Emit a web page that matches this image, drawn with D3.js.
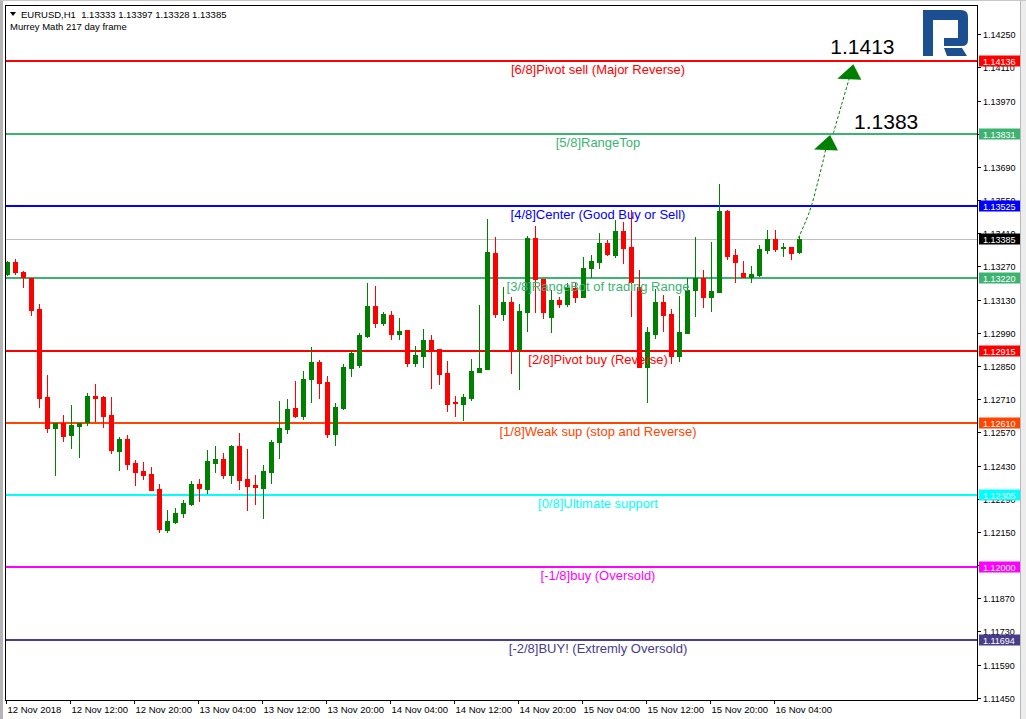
<!DOCTYPE html>
<html><head><meta charset="utf-8">
<script src="https://cdn.jsdelivr.net/npm/d3@7"></script>
<style>html,body{margin:0;padding:0;background:#fff;overflow:hidden}</style>
</head><body>
<svg id="c" width="1026" height="719" xmlns="http://www.w3.org/2000/svg"></svg>
<script>
// ---------------- DATA ----------------
const symbolInfo = "EURUSD,H1";
const headerOHLC = ["1.13333", "1.13397", "1.13328", "1.13385"];
const indicatorName = "Murrey Math 217 day frame";
const firstBarTime = "2018-11-12T04:00:00";

const openP = [1.13237,1.13288,1.13248,1.13220,1.13091,1.12720,1.12590,1.12608,1.12559,1.12598,
1.12612,1.12725,1.12721,1.12643,1.12493,1.12542,1.12441,1.12407,1.12394,1.12331,
1.12159,1.12193,1.12231,1.12268,1.12352,1.12331,1.12441,1.12458,1.12391,1.12513,
1.12373,1.12348,1.12335,1.12403,1.12530,1.12584,1.12673,1.12639,1.12795,1.12867,
1.12783,1.12563,1.12672,1.12843,1.12855,1.12977,1.13104,1.13031,1.13066,1.12985,
1.13002,1.12862,1.12894,1.12960,1.12923,1.12821,1.12697,1.12690,1.12714,1.12824,
1.12836,1.13326,1.13070,1.13120,1.12923,1.13080,1.13389,1.13216,1.13058,1.13129,
1.13112,1.13178,1.13143,1.13265,1.13291,1.13371,1.13319,1.13420,1.13351,1.13183,
1.12847,1.12985,1.13120,1.13070,1.12894,1.12991,1.13171,1.13220,1.13142,1.13163,
1.13506,1.13319,1.13243,1.13227,1.13234,1.13340,1.13386,1.13347,1.13353,1.13333];

const highP = [1.13294,1.13302,1.13250,1.13221,1.13112,1.12812,1.12609,1.12643,1.12686,1.12609,
1.12736,1.12774,1.12725,1.12719,1.12552,1.12559,1.12454,1.12446,1.12423,1.12352,
1.12242,1.12252,1.12285,1.12365,1.12373,1.12496,1.12513,1.12483,1.12517,1.12567,
1.12500,1.12390,1.12432,1.12538,1.12703,1.12711,1.12787,1.12829,1.12930,1.12876,
1.12808,1.12694,1.12859,1.12914,1.12991,1.13202,1.13188,1.13080,1.13083,1.13054,
1.13002,1.12936,1.13007,1.12981,1.12923,1.12869,1.12725,1.12732,1.12880,1.13108,
1.13470,1.13393,1.13182,1.13143,1.13112,1.13400,1.13441,1.13216,1.13171,1.13143,
1.13199,1.13199,1.13309,1.13319,1.13413,1.13382,1.13466,1.13459,1.13509,1.13255,
1.13016,1.13174,1.13150,1.13090,1.13146,1.13220,1.13396,1.13255,1.13375,1.13618,
1.13509,1.13344,1.13295,1.13270,1.13361,1.13424,1.13424,1.13369,1.13353,1.13397];

const lowP = [1.13234,1.13239,1.13185,1.13066,1.12675,1.12573,1.12390,1.12534,1.12506,1.12464,
1.12601,1.12618,1.12594,1.12483,1.12411,1.12415,1.12348,1.12373,1.12328,1.12151,
1.12151,1.12187,1.12214,1.12264,1.12281,1.12314,1.12403,1.12378,1.12356,1.12331,
1.12242,1.12268,1.12209,1.12356,1.12462,1.12567,1.12635,1.12626,1.12698,1.12715,
1.12551,1.12517,1.12667,1.12809,1.12847,1.12974,1.13016,1.13023,1.12965,1.12965,
1.12852,1.12852,1.12847,1.12756,1.12773,1.12660,1.12639,1.12622,1.12707,1.12824,
1.12836,1.13056,1.13044,1.12821,1.12754,1.12999,1.13077,1.13052,1.12993,1.13098,
1.13105,1.13122,1.13143,1.13227,1.13263,1.13319,1.13309,1.13284,1.13063,1.12844,
1.12700,1.12967,1.12998,1.12864,1.12869,1.12991,1.13063,1.13098,1.13083,1.13163,
1.13302,1.13206,1.13225,1.13206,1.13231,1.13329,1.13336,1.13315,1.13302,1.13328];

const closeP = [1.13291,1.13248,1.13225,1.13088,1.12717,1.12590,1.12608,1.12556,1.12601,1.12608,
1.12725,1.12717,1.12640,1.12497,1.12542,1.12438,1.12404,1.12390,1.12328,1.12162,
1.12196,1.12229,1.12272,1.12352,1.12333,1.12447,1.12458,1.12391,1.12513,1.12369,
1.12344,1.12340,1.12407,1.12530,1.12589,1.12669,1.12639,1.12795,1.12867,1.12778,
1.12563,1.12677,1.12847,1.12904,1.12981,1.13104,1.13031,1.13070,1.12985,1.12998,
1.12862,1.12897,1.12960,1.12923,1.12816,1.12690,1.12693,1.12720,1.12829,1.12842,
1.13333,1.13070,1.13120,1.12923,1.13083,1.13392,1.13216,1.13080,1.13129,1.13112,
1.13178,1.13143,1.13263,1.13294,1.13371,1.13322,1.13420,1.13350,1.13205,1.12847,
1.12993,1.13120,1.13066,1.12894,1.12994,1.13171,1.13220,1.13142,1.13167,1.13506,
1.13315,1.13289,1.13227,1.13239,1.13344,1.13386,1.13344,1.13353,1.13329,1.13385];

const levelValues = [1.14136, 1.13831, 1.13525, 1.13220, 1.12915, 1.12610, 1.12305, 1.12000, 1.11694];
const levelNames = ["[6/8]Pivot sell (Major Reverse)", "[5/8]RangeTop", "[4/8]Center (Good Buy or Sell)",
  "[3/8]RangeBot of trading Range", "[2/8]Pivot buy (Reverse)", "[1/8]Weak sup (stop and Reverse)",
  "[0/8]Ultimate support", "[-1/8]buy (Oversold)", "[-2/8]BUY! (Extremly Oversold)"];
const levelColors = ["#ff0000", "#3cb371", "#0000ff", "#3cb371", "#ff0000", "#ff4500", "#00ffff", "#ff00ff", "#483d8b"];

const currentPrice = 1.13385;

const priceTicks = [1.11450, 1.11590, 1.11730, 1.11870, 1.12010, 1.12150, 1.12290, 1.12430, 1.12570, 1.12710,
  1.12850, 1.12990, 1.13130, 1.13270, 1.13410, 1.13550, 1.13690, 1.13830, 1.13970, 1.14110, 1.14250];

const timeTickBars = [0, 8, 16, 24, 32, 40, 48, 56, 64, 72, 80, 88, 96];
const timeTickLabels = ["12 Nov 2018", "12 Nov 12:00", "12 Nov 20:00", "13 Nov 04:00", "13 Nov 12:00",
  "13 Nov 20:00", "14 Nov 04:00", "14 Nov 12:00", "14 Nov 20:00", "15 Nov 04:00", "15 Nov 12:00",
  "15 Nov 20:00", "16 Nov 04:00"];

// forecast arrows (bar index, price)
const path1Bars = [98.91, 100.38, 101.41, 102.04, 102.46];
const path1Prices = [1.13389, 1.13508, 1.13635, 1.13720, 1.13783];
const path2Bars = [103.29, 104.3, 105.29];
const path2Prices = [1.13832, 1.13950, 1.14065];
const targetBars = [102.88, 105.79];
const targetTipPrices = [1.13825, 1.14124];
const targetValues = [1.1383, 1.1413];

// ---------------- CHART ----------------
const W = 1026, H = 719;
const plot = {left: 5, top: 5, right: 977, bottom: 700};
const svg = d3.select("#c");
const font = "'Liberation Sans', Arial, sans-serif";

svg.append("rect").attr("width", W).attr("height", H).attr("fill", "#ffffff");

const parse = d3.timeParse("%Y-%m-%dT%H:%M:%S");
const t0 = parse(firstBarTime);
const times = openP.map((_, i) => d3.timeHour.offset(t0, i));
const bars = times.map((t, i) => ({t, i, o: openP[i], h: highP[i], l: lowP[i], c: closeP[i]}));

const x = d3.scaleBand().domain(times.map(d => +d)).range([3, 3 + 8 * times.length]).padding(0);
const xIdx = d3.scaleLinear().domain([0, times.length - 1]).range([x(+times[0]) + 4, x(+times[times.length - 1]) + 4]);
const y = d3.scaleLinear().domain([1.11450, 1.14250]).range([697.7, 34.3]);

// window chrome
svg.append("rect").attr("x", 0).attr("y", 0).attr("width", 3).attr("height", H).attr("fill", "#b4b4b4");
svg.append("rect").attr("x", 1020).attr("y", 0).attr("width", 6).attr("height", H).attr("fill", "#ececec");
svg.append("line").attr("x1", 1020.5).attr("x2", 1020.5).attr("y1", 0).attr("y2", H).attr("stroke", "#b8b8b8");
svg.append("line").attr("x1", 0).attr("x2", W).attr("y1", 0.5).attr("y2", 0.5).attr("stroke", "#c8c8c8");

const g = svg.append("g");
svg.append("clipPath").attr("id", "pc").append("rect")
  .attr("x", plot.left).attr("y", plot.top).attr("width", plot.right - plot.left).attr("height", plot.bottom - plot.top);
const pg = g.append("g").attr("clip-path", "url(#pc)");

// current price line
pg.append("line").attr("x1", plot.left).attr("x2", plot.right)
  .attr("y1", Math.round(y(currentPrice)) + 0.5).attr("y2", Math.round(y(currentPrice)) + 0.5)
  .attr("stroke", "#c0c0c0").attr("stroke-width", 1);

// level lines
levelValues.forEach((v, k) => {
  const yy = Math.round(y(v));
  pg.append("line").attr("x1", plot.left).attr("x2", plot.right).attr("y1", yy).attr("y2", yy)
    .attr("stroke", levelColors[k]).attr("stroke-width", 2).attr("shape-rendering", "crispEdges");
});

// candles
const cg = pg.append("g").attr("shape-rendering", "crispEdges");
bars.forEach(d => {
  const up = d.c >= d.o;
  const col = up ? "#008000" : "#ff0000";
  const bx = x(+d.t);
  cg.append("line").attr("x1", bx + 4.5).attr("x2", bx + 4.5)
    .attr("y1", Math.round(y(d.h))).attr("y2", Math.round(y(d.l)) + 1).attr("stroke", col);
  const yt = Math.round(y(Math.max(d.o, d.c)));
  const yb = Math.round(y(Math.min(d.o, d.c)));
  cg.append("rect").attr("x", bx + 2).attr("y", yt).attr("width", 5).attr("height", Math.max(1, yb - yt + 1))
    .attr("fill", col);
});

// level labels
levelValues.forEach((v, k) => {
  pg.append("text").attr("x", 598).attr("y", Math.round(y(v)) + 13)
    .attr("text-anchor", "middle").attr("font-family", font).attr("font-size", 13)
    .attr("fill", levelColors[k]).text(levelNames[k]);
});

// forecast dotted paths
const lineGen = d3.line().x(d => xIdx(d[0])).y(d => y(d[1])).curve(d3.curveCatmullRom);
pg.append("path").datum(path1Bars.map((b, k) => [b, path1Prices[k]])).attr("d", lineGen)
  .attr("fill", "none").attr("stroke", "#008000").attr("stroke-width", 1).attr("stroke-dasharray", "3,2");
pg.append("path").datum(path2Bars.map((b, k) => [b, path2Prices[k]])).attr("d", lineGen)
  .attr("fill", "none").attr("stroke", "#008000").attr("stroke-width", 1).attr("stroke-dasharray", "3,2");

targetBars.forEach((b, k) => {
  const tx = xIdx(b), ty = y(targetTipPrices[k]);
  pg.append("path").attr("d", `M${tx},${ty} L${tx + 8},${ty + 15.5} L${tx - 16},${ty + 14.5} Z`)
    .attr("fill", "#008000");
});
// target texts
pg.append("text").attr("x", xIdx(targetBars[0]) + 24).attr("y", y(targetTipPrices[0]) - 6)
  .attr("font-family", font).attr("font-size", 21).attr("fill", "#000").text(targetValues[0].toFixed(4));
pg.append("text").attr("x", xIdx(targetBars[1]) - 23).attr("y", y(targetTipPrices[1]) - 10)
  .attr("font-family", font).attr("font-size", 21).attr("fill", "#000").text(targetValues[1].toFixed(4));

// logo
const logo = g.append("g").attr("fill", "#1b4f8f");
logo.append("path").attr("d",
  "M923,10 H961 Q968,10 968,17 V40 Q968,46 962,46 H944 V38 H958 V20 H933 V56 H923 Z");
logo.append("path").attr("d", "M944,48 H962 L967,56 H947 Z");

// frame
g.append("rect").attr("x", plot.left + 0.5).attr("y", plot.top + 0.5)
  .attr("width", plot.right - plot.left).attr("height", plot.bottom - plot.top)
  .attr("fill", "none").attr("stroke", "#000");

// price axis ticks
const ag = g.append("g");
priceTicks.forEach(p => {
  const yy = Math.round(y(p)) + 0.5;
  ag.append("line").attr("x1", plot.right).attr("x2", plot.right + 4).attr("y1", yy).attr("y2", yy).attr("stroke", "#000");
  ag.append("text").attr("x", 983).attr("y", yy + 3.5).attr("font-family", font).attr("font-size", 9)
    .attr("fill", "#000").text(d3.format(".5f")(p));
});

// level price tags
const tagList = levelValues.map((v, k) => ({v, col: levelColors[k], tc: "#fff"}));
tagList.push({v: currentPrice, col: "#000000", tc: "#fff"});
tagList.forEach(t => {
  const yy = Math.round(y(t.v));
  ag.append("rect").attr("x", 979).attr("y", yy - 5.5).attr("width", 41).attr("height", 11).attr("fill", t.col);
  ag.append("text").attr("x", 983).attr("y", yy + 3.5).attr("font-family", font).attr("font-size", 9)
    .attr("fill", t.tc).text(d3.format(".5f")(t.v));
});

// time axis
timeTickBars.forEach((b, k) => {
  const tx = x(+times[b]) + 3.5;
  ag.append("line").attr("x1", tx).attr("x2", tx).attr("y1", plot.bottom).attr("y2", plot.bottom + 4).attr("stroke", "#000");
  ag.append("text").attr("x", tx + 1).attr("y", 713).attr("font-family", font).attr("font-size", 9.5)
    .attr("fill", "#000").text(timeTickLabels[k]);
});

// header
svg.append("path").attr("d", "M10,12 L16,12 L13,16 Z").attr("fill", "#000");
svg.append("text").attr("x", 21).attr("y", 17.5).attr("font-family", font).attr("font-size", 9.5)
  .attr("fill", "#000").attr("xml:space", "preserve").text(symbolInfo + "  " + headerOHLC.join(" "));
svg.append("text").attr("x", 10).attr("y", 29.5).attr("font-family", font).attr("font-size", 9.5)
  .attr("fill", "#000").text(indicatorName);
</script>
</body></html>
